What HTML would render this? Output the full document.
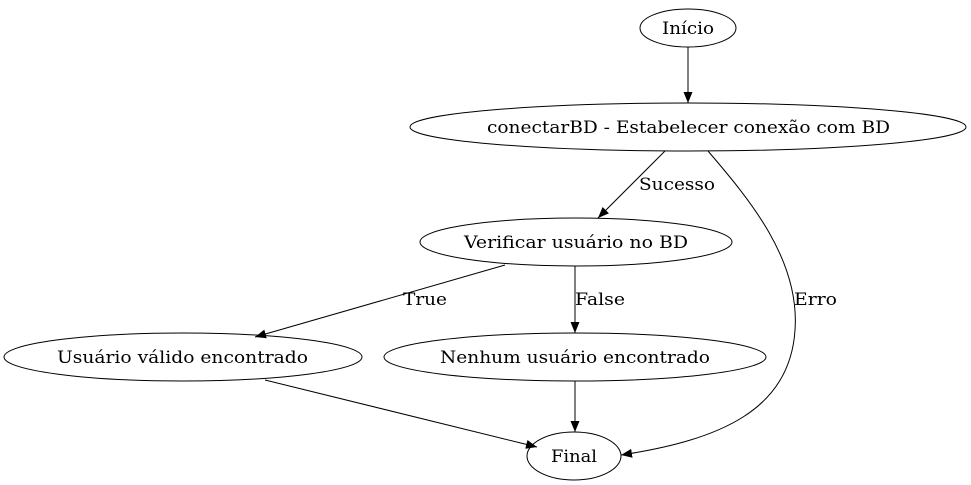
<!DOCTYPE html>
<html><head><meta charset="utf-8"><style>
html,body{margin:0;padding:0;background:#fff;}
svg{display:block;}
text{font-family:"DejaVu Serif",serif;font-size:17px;fill:#000;}
</style></head><body>
<svg width="971" height="485" viewBox="0 0 971 485" xmlns="http://www.w3.org/2000/svg">
<defs>
<marker id="a" markerWidth="11" markerHeight="9" refX="11" refY="4.5" orient="auto" markerUnits="userSpaceOnUse">
<path d="M0,0 L11,4.5 L0,9 z" fill="#000"/>
</marker>
</defs>
<g fill="none" stroke="#000" stroke-width="1">
<ellipse cx="688" cy="28" rx="48" ry="19"/>
<ellipse cx="688" cy="127" rx="278" ry="24"/>
<ellipse cx="576" cy="242" rx="156" ry="24"/>
<ellipse cx="183" cy="357" rx="179" ry="24"/>
<ellipse cx="575" cy="357" rx="191" ry="24"/>
<ellipse cx="574" cy="456" rx="47" ry="24"/>
<path d="M688,47 L688,103" marker-end="url(#a)"/>
<path d="M665,151 L598,218" marker-end="url(#a)"/>
<path d="M708,151 C750,200 800,260 795,330 C790,410 720,440 621,455" marker-end="url(#a)"/>
<path d="M505,265 L255,337" marker-end="url(#a)"/>
<path d="M575,266 L575,333" marker-end="url(#a)"/>
<path d="M265,380 L537,447" marker-end="url(#a)"/>
<path d="M575,381 L575,432" marker-end="url(#a)"/>
</g>
<g>
<text x="662" y="34" textLength="52" lengthAdjust="spacingAndGlyphs">Início</text>
<text x="487" y="133" textLength="403" lengthAdjust="spacingAndGlyphs">conectarBD - Estabelecer conexão com BD</text>
<text x="464" y="248" textLength="224" lengthAdjust="spacingAndGlyphs">Verificar usuário no BD</text>
<text x="57" y="363" textLength="251" lengthAdjust="spacingAndGlyphs">Usuário válido encontrado</text>
<text x="440" y="363" textLength="270" lengthAdjust="spacingAndGlyphs">Nenhum usuário encontrado</text>
<text x="551" y="462" textLength="46" lengthAdjust="spacingAndGlyphs">Final</text>
<text x="639" y="190" textLength="76" lengthAdjust="spacingAndGlyphs">Sucesso</text>
<text x="794" y="305" textLength="43" lengthAdjust="spacingAndGlyphs">Erro</text>
<text x="403" y="305" textLength="44" lengthAdjust="spacingAndGlyphs">True</text>
<text x="575" y="305" textLength="50" lengthAdjust="spacingAndGlyphs">False</text>
</g>
</svg>
</body></html>
